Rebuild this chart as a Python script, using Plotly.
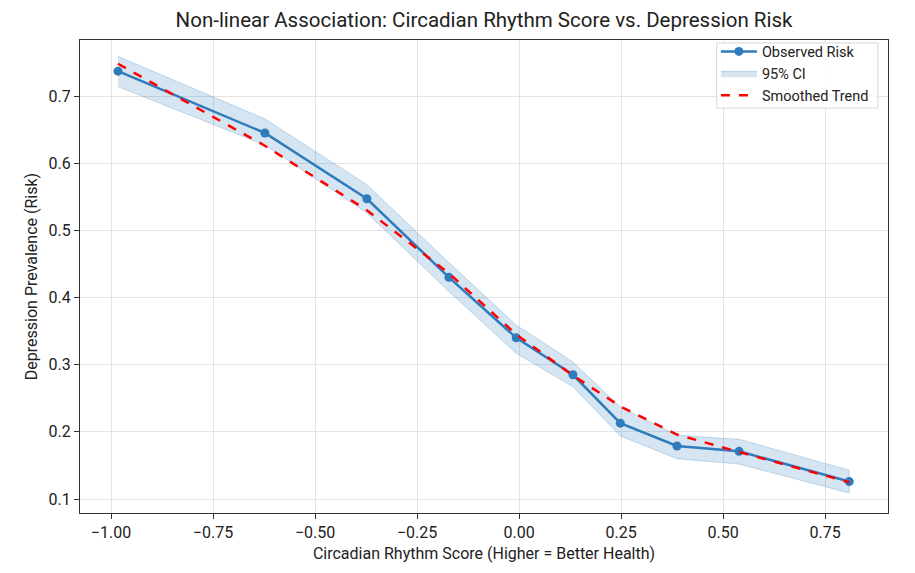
import plotly.graph_objects as go

score = [-0.983, -0.623, -0.373, -0.172, -0.007, 0.132, 0.248, 0.387, 0.539, 0.809]
risk = [0.737, 0.645, 0.547, 0.430, 0.340, 0.285, 0.213, 0.179, 0.171, 0.126]
ci_low = [0.714, 0.627, 0.526, 0.409, 0.317, 0.267, 0.194, 0.160, 0.152, 0.109]
ci_high = [0.759, 0.666, 0.568, 0.452, 0.359, 0.304, 0.237, 0.195, 0.189, 0.143]
smooth = [0.748, 0.626, 0.530, 0.436, 0.345, 0.284, 0.238, 0.196, 0.170, 0.125]

blue = "#2f7bbb"
font = "Roboto"

fig = go.Figure()
fig.add_trace(go.Scatter(
    x=score + score[::-1], y=ci_high + ci_low[::-1],
    fill="toself", fillcolor="rgba(47,123,187,0.2)",
    line=dict(color="rgba(47,123,187,0.25)", width=1),
    name="95% CI", legendrank=2, hoverinfo="skip"))
fig.add_trace(go.Scatter(
    x=score, y=risk, mode="lines+markers", name="Observed Risk",
    line=dict(color=blue, width=2.5), marker=dict(size=9, color=blue),
    legendrank=1))
fig.add_trace(go.Scatter(
    x=score, y=smooth, mode="lines", name="Smoothed Trend",
    line=dict(color="#ff0000", width=2.5, dash="dash"), legendrank=3))

axis_common = dict(
    showline=True, linecolor="#333333", linewidth=1, mirror=True,
    ticks="outside", ticklen=5, tickcolor="#333333",
    showgrid=True, gridcolor="#e3e3e3", gridwidth=1, zeroline=False,
    tickfont=dict(family=font, size=16, color="#222"),
)

# legend frame (styling only)
fig.add_shape(type="rect", xref="paper", yref="paper",
              x0=0.788, x1=0.9876, y0=0.856, y1=0.9937,
              line=dict(color="#d6d6d6", width=1),
              fillcolor="rgba(255,255,255,0.85)", layer="above")

fig.update_layout(
    width=915, height=573,
    margin=dict(l=80, r=27, t=40, b=60),
    paper_bgcolor="white", plot_bgcolor="white",
    title=dict(text="Non-linear Association: Circadian Rhythm Score vs. Depression Risk",
               x=0.5, xref="paper", xanchor="center", y=0.966, yanchor="middle",
               font=dict(family=font, size=20.5, color="#222")),
    xaxis=dict(range=[-1.076, 0.904], tickvals=[-1.0, -0.75, -0.5, -0.25, 0.0, 0.25, 0.5, 0.75],
               tickformat=".2f",
               title=dict(text="Circadian Rhythm Score (Higher = Better Health)",
                          font=dict(family=font, size=16, color="#222"), standoff=6),
               **axis_common),
    yaxis=dict(range=[0.0792, 0.7834], tickvals=[0.1, 0.2, 0.3, 0.4, 0.5, 0.6, 0.7],
               tickformat=".1f",
               title=dict(text="Depression Prevalence (Risk)",
                          font=dict(family=font, size=16, color="#222"), standoff=6),
               **axis_common),
    legend=dict(x=0.787, y=1.0095, xanchor="left", yanchor="top",
                bgcolor="rgba(0,0,0,0)", borderwidth=0,
                tracegroupgap=0, itemwidth=36,
                font=dict(family=font, size=14.5, color="#222")),
    showlegend=True,
)

fig.write_html("out.html")
